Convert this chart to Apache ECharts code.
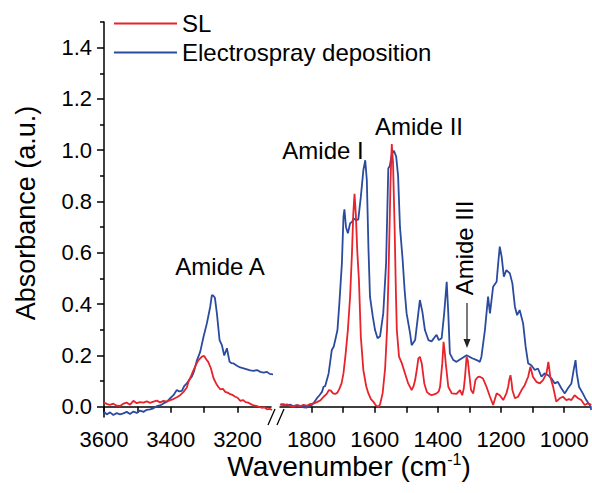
<!DOCTYPE html>
<html lang="en">
<head>
    <meta charset="utf-8">
    <title>FTIR spectra</title>
    <script src="https://cdn.jsdelivr.net/npm/echarts@6/dist/echarts.min.js"></script>
    <style>
        html, body { margin: 0; padding: 0; background: #fff; }
        #chart1 { width: 592px; height: 493px; }
    </style>
</head>
<body>
<div id="chart1"></div>
<script type="text/javascript">
    // series names
    var nameSL = 'SL';
    var nameES = 'Electrospray deposition';

    // high wavenumber part (3600 - 3100), [wavenumber, absorbance]
    var slHigh = [
        [3600,0.016],[3590,0.010],[3582,0.007],[3572,0.012],[3562,0.004],[3552,0.003],[3542,0.012],
        [3532,0.016],[3522,0.008],[3512,0.023],[3502,0.014],[3492,0.018],[3482,0.016],[3472,0.021],
        [3462,0.015],[3452,0.020],[3442,0.024],[3432,0.017],[3422,0.023],[3412,0.020],[3402,0.026],
        [3392,0.030],[3382,0.037],[3372,0.045],[3362,0.058],[3352,0.075],[3347,0.097],[3340,0.118],
        [3332,0.143],[3324,0.165],[3317,0.182],[3307,0.195],[3300,0.198],[3294,0.185],[3288,0.175],
        [3280,0.150],[3272,0.111],[3264,0.090],[3258,0.078],[3252,0.068],[3244,0.070],[3237,0.058],
        [3230,0.055],[3222,0.049],[3214,0.045],[3207,0.039],[3200,0.035],[3192,0.023],[3184,0.026],
        [3176,0.018],[3168,0.016],[3160,0.010],[3152,0.005],[3144,0.003],[3136,0.000],[3128,-0.004],
        [3120,-0.002],[3112,-0.010],[3104,-0.008],[3097,-0.013]
    ];
    var esHigh = [
        [3600,-0.019],[3592,-0.030],[3582,-0.022],[3572,-0.032],[3562,-0.025],[3552,-0.030],[3542,-0.026],
        [3532,-0.020],[3522,-0.028],[3512,-0.019],[3502,-0.024],[3492,-0.015],[3482,-0.020],[3472,-0.012],
        [3462,-0.010],[3452,-0.006],[3442,0.002],[3432,0.005],[3422,0.013],[3412,0.020],[3402,0.033],
        [3392,0.045],[3382,0.065],[3375,0.060],[3367,0.062],[3360,0.080],[3352,0.091],[3345,0.105],
        [3337,0.117],[3330,0.140],[3322,0.180],[3312,0.214],[3302,0.273],[3292,0.325],[3282,0.390],
        [3277,0.435],[3272,0.432],[3268,0.425],[3262,0.364],[3254,0.260],[3247,0.240],[3240,0.200],
        [3232,0.228],[3224,0.175],[3218,0.170],[3212,0.169],[3202,0.160],[3192,0.153],[3182,0.150],
        [3172,0.146],[3162,0.142],[3152,0.140],[3142,0.143],[3132,0.136],[3122,0.133],[3112,0.136],
        [3104,0.128],[3094,0.126]
    ];

    // low wavenumber part (1900 - 915)
    var slLow = [
        [1899,0.010],[1888,0.005],[1878,0.009],[1868,0.003],[1857,0.000],[1846,0.006],[1836,0.002],
        [1826,0.007],[1815,0.004],[1805,0.010],[1793,0.013],[1783,0.018],[1772,0.025],[1762,0.039],
        [1752,0.050],[1745,0.065],[1739,0.063],[1732,0.052],[1725,0.050],[1718,0.055],[1712,0.070],
        [1705,0.091],[1699,0.130],[1693,0.195],[1685,0.300],[1678,0.429],[1672,0.600],[1668,0.750],
        [1664,0.830],[1660,0.754],[1655,0.600],[1650,0.494],[1644,0.273],[1636,0.143],[1627,0.080],
        [1620,0.052],[1612,0.030],[1604,0.019],[1596,0.005],[1588,0.000],[1583,0.010],[1575,0.052],
        [1567,0.150],[1561,0.300],[1557,0.480],[1553,0.700],[1550,0.880],[1546,1.024],[1542,0.950],
        [1537,0.700],[1533,0.450],[1530,0.299],[1523,0.195],[1514,0.169],[1504,0.130],[1494,0.091],
        [1483,0.065],[1477,0.080],[1472,0.104],[1466,0.150],[1462,0.188],[1457,0.195],[1451,0.169],
        [1443,0.091],[1435,0.058],[1428,0.050],[1420,0.045],[1412,0.048],[1404,0.052],[1397,0.060],
        [1393,0.078],[1386,0.169],[1382,0.253],[1378,0.210],[1375,0.169],[1367,0.078],[1356,0.052],
        [1341,0.050],[1330,0.065],[1323,0.045],[1318,0.070],[1314,0.117],[1309,0.195],[1305,0.180],
        [1302,0.143],[1295,0.065],[1288,0.052],[1281,0.104],[1274,0.115],[1267,0.117],[1257,0.110],
        [1246,0.078],[1235,0.039],[1225,0.007],[1214,0.052],[1204,0.045],[1193,0.026],[1183,0.052],
        [1177,0.080],[1174,0.104],[1170,0.123],[1166,0.090],[1164,0.065],[1156,0.033],[1146,0.039],
        [1135,0.065],[1125,0.084],[1114,0.117],[1107,0.156],[1099,0.117],[1088,0.097],[1077,0.091],
        [1067,0.104],[1056,0.130],[1050,0.175],[1044,0.117],[1035,0.078],[1025,0.020],[1014,0.033],
        [1004,0.039],[993,0.026],[985,0.030],[977,0.026],[967,0.045],[956,0.033],[946,0.026],
        [935,0.007],[925,0.013],[914,0.007]
    ];
    var esLow = [
        [1899,0.007],[1890,0.010],[1878,0.005],[1868,0.008],[1857,0.002],[1847,0.006],[1836,0.003],
        [1826,-0.002],[1815,-0.003],[1808,0.004],[1799,0.007],[1790,0.020],[1783,0.033],[1775,0.045],
        [1767,0.058],[1762,0.078],[1757,0.080],[1746,0.130],[1736,0.221],[1730,0.234],[1725,0.260],
        [1718,0.299],[1712,0.403],[1704,0.559],[1699,0.740],[1696,0.770],[1691,0.700],[1685,0.676],
        [1678,0.715],[1672,0.720],[1667,0.734],[1660,0.728],[1652,0.730],[1644,0.818],[1636,0.922],
        [1630,0.961],[1625,0.883],[1620,0.624],[1615,0.429],[1606,0.351],[1599,0.299],[1591,0.267],
        [1583,0.275],[1573,0.364],[1564,0.559],[1557,0.929],[1552,0.940],[1546,0.985],[1539,0.998],
        [1532,0.975],[1526,0.900],[1520,0.700],[1512,0.580],[1505,0.450],[1499,0.364],[1488,0.286],
        [1483,0.240],[1472,0.260],[1462,0.364],[1457,0.416],[1449,0.370],[1441,0.299],[1430,0.260],
        [1420,0.255],[1409,0.273],[1404,0.280],[1397,0.260],[1388,0.267],[1380,0.364],[1372,0.487],
        [1367,0.364],[1362,0.208],[1351,0.182],[1341,0.175],[1325,0.188],[1309,0.201],[1300,0.195],
        [1293,0.190],[1277,0.182],[1267,0.175],[1262,0.195],[1251,0.299],[1241,0.429],[1235,0.364],
        [1225,0.468],[1214,0.487],[1209,0.559],[1204,0.624],[1198,0.585],[1191,0.507],[1183,0.533],
        [1172,0.520],[1164,0.481],[1156,0.390],[1149,0.357],[1141,0.377],[1130,0.325],[1122,0.234],
        [1114,0.169],[1104,0.162],[1093,0.143],[1083,0.149],[1072,0.117],[1062,0.130],[1051,0.123],
        [1040,0.110],[1030,0.091],[1020,0.097],[1009,0.072],[998,0.052],[988,0.072],[977,0.091],
        [970,0.143],[964,0.182],[960,0.130],[953,0.078],[941,0.052],[930,0.026],[919,0.007],[914,-0.013]
    ];

    // ticks
    var yMajor = [0, 0.2, 0.4, 0.6, 0.8, 1.0, 1.2, 1.4];
    var yMinor = [0.1, 0.3, 0.5, 0.7, 0.9, 1.1, 1.3, 1.5];
    var xHighTicks = [3600, 3500, 3400, 3300, 3200];
    var xHighLabels = [3600, 3400, 3200];
    var xLowTicks = [1800, 1700, 1600, 1500, 1400, 1300, 1200, 1100, 1000];
    var xLowLabels = [1800, 1600, 1400, 1200, 1000];

    var red = '#e8232b';
    var blue = '#2b4b9f';
    var font = '"Liberation Sans", Arial, sans-serif';

    var myChart = echarts.init(document.getElementById('chart1'), null, {renderer: 'svg'});

    function xAxisOf(grid, min, max, ticks, labels) {
        return {
            type: 'value', gridIndex: grid, min: min, max: max, inverse: true,
            axisLine: {lineStyle: {color: '#000', width: 1.5}},
            axisTick: {show: true, length: 6, customValues: ticks, lineStyle: {color: '#000', width: 1.5}},
            axisLabel: {customValues: labels, color: '#000', fontSize: 22, fontFamily: font, margin: 11,
                formatter: function (v) { return String(v); }},
            splitLine: {show: false}
        };
    }

    function yAxisOf(grid, visible) {
        return {
            type: 'value', gridIndex: grid, min: -0.04, max: 1.5, position: 'left',
            axisLine: {show: visible, lineStyle: {color: '#000', width: 1.5}},
            axisTick: {show: visible, length: 7, customValues: yMajor, lineStyle: {color: '#000', width: 1.5}},
            axisLabel: {show: visible, customValues: yMajor, color: '#000', fontSize: 22, fontFamily: font, margin: 12,
                formatter: function (v) { return v.toFixed(1); }},
            splitLine: {show: false}
        };
    }

    function lineOf(name, color, xi, data) {
        return {
            name: name, type: 'line', xAxisIndex: xi, yAxisIndex: xi, data: data,
            symbol: 'none', smooth: false, lineStyle: {color: color, width: 1.8}, itemStyle: {color: color}
        };
    }

    // minor ticks on the left y axis
    var yMinorAxis = {
        type: 'value', gridIndex: 0, min: -0.04, max: 1.5, position: 'left', offset: 0,
        axisLine: {show: false},
        axisTick: {show: true, length: 4, customValues: yMinor, lineStyle: {color: '#000', width: 1.5}},
        axisLabel: {show: false},
        splitLine: {show: false}
    };

    myChart.setOption({
        animation: false,
        backgroundColor: '#fff',
        grid: [
            {left: 104, top: 22, width: 167, bottom: 76},
            {left: 280, top: 22, width: 311, bottom: 76}
        ],
        legend: {
            left: 114, top: 9, orient: 'vertical', padding: 0, itemGap: 0,
            icon: 'rect', itemWidth: 63, itemHeight: 2,
            data: [nameSL, nameES],
            textStyle: {color: '#000', fontSize: 24, fontFamily: font, lineHeight: 29}
        },
        xAxis: [
            xAxisOf(0, 3100, 3600, xHighTicks, xHighLabels),
            xAxisOf(1, 915, 1900, xLowTicks, xLowLabels)
        ],
        yAxis: [yAxisOf(0, true), yAxisOf(1, false), yMinorAxis],
        series: [
            lineOf(nameES, blue, 0, esHigh),
            lineOf(nameSL, red, 0, slHigh),
            lineOf(nameES, blue, 1, esLow),
            lineOf(nameSL, red, 1, slLow)
        ],
        graphic: [
            // axis titles
            {type: 'text', x: 26, y: 213, rotation: Math.PI / 2,
                style: {text: 'Absorbance (a.u.)', fill: '#000', font: '27px ' + font, align: 'center', verticalAlign: 'middle'}},
            {type: 'text', x: 349, y: 466,
                style: {text: 'Wavenumber (cm{sup|-1})', fill: '#000', font: '28px ' + font, align: 'center', verticalAlign: 'middle',
                    rich: {sup: {fontSize: 16, fontFamily: font, verticalAlign: 'top', padding: [0, 0, 14, 0]}}}},
            // band labels
            {type: 'text', x: 220, y: 266, style: {text: 'Amide A', fill: '#000', font: '24px ' + font, align: 'center', verticalAlign: 'middle'}},
            {type: 'text', x: 323, y: 150, style: {text: 'Amide I', fill: '#000', font: '24px ' + font, align: 'center', verticalAlign: 'middle'}},
            {type: 'text', x: 419, y: 126, style: {text: 'Amide II', fill: '#000', font: '24px ' + font, align: 'center', verticalAlign: 'middle'}},
            {type: 'text', x: 464, y: 248, rotation: Math.PI / 2,
                style: {text: 'Amide III', fill: '#000', font: '24px ' + font, align: 'center', verticalAlign: 'middle'}},
            // arrow to amide III
            {type: 'line', shape: {x1: 467, y1: 303, x2: 467, y2: 342}, style: {stroke: '#333', lineWidth: 1.3}},
            {type: 'polygon', shape: {points: [[463.5, 339], [470.5, 339], [467, 348]]}, style: {fill: '#222'}},
            // axis break marks
            {type: 'line', shape: {x1: 268, y1: 425, x2: 275, y2: 409}, style: {stroke: '#000', lineWidth: 1.3}},
            {type: 'line', shape: {x1: 277, y1: 425, x2: 284, y2: 409}, style: {stroke: '#000', lineWidth: 1.3}}
        ]
    });
</script>
</body>
</html>
